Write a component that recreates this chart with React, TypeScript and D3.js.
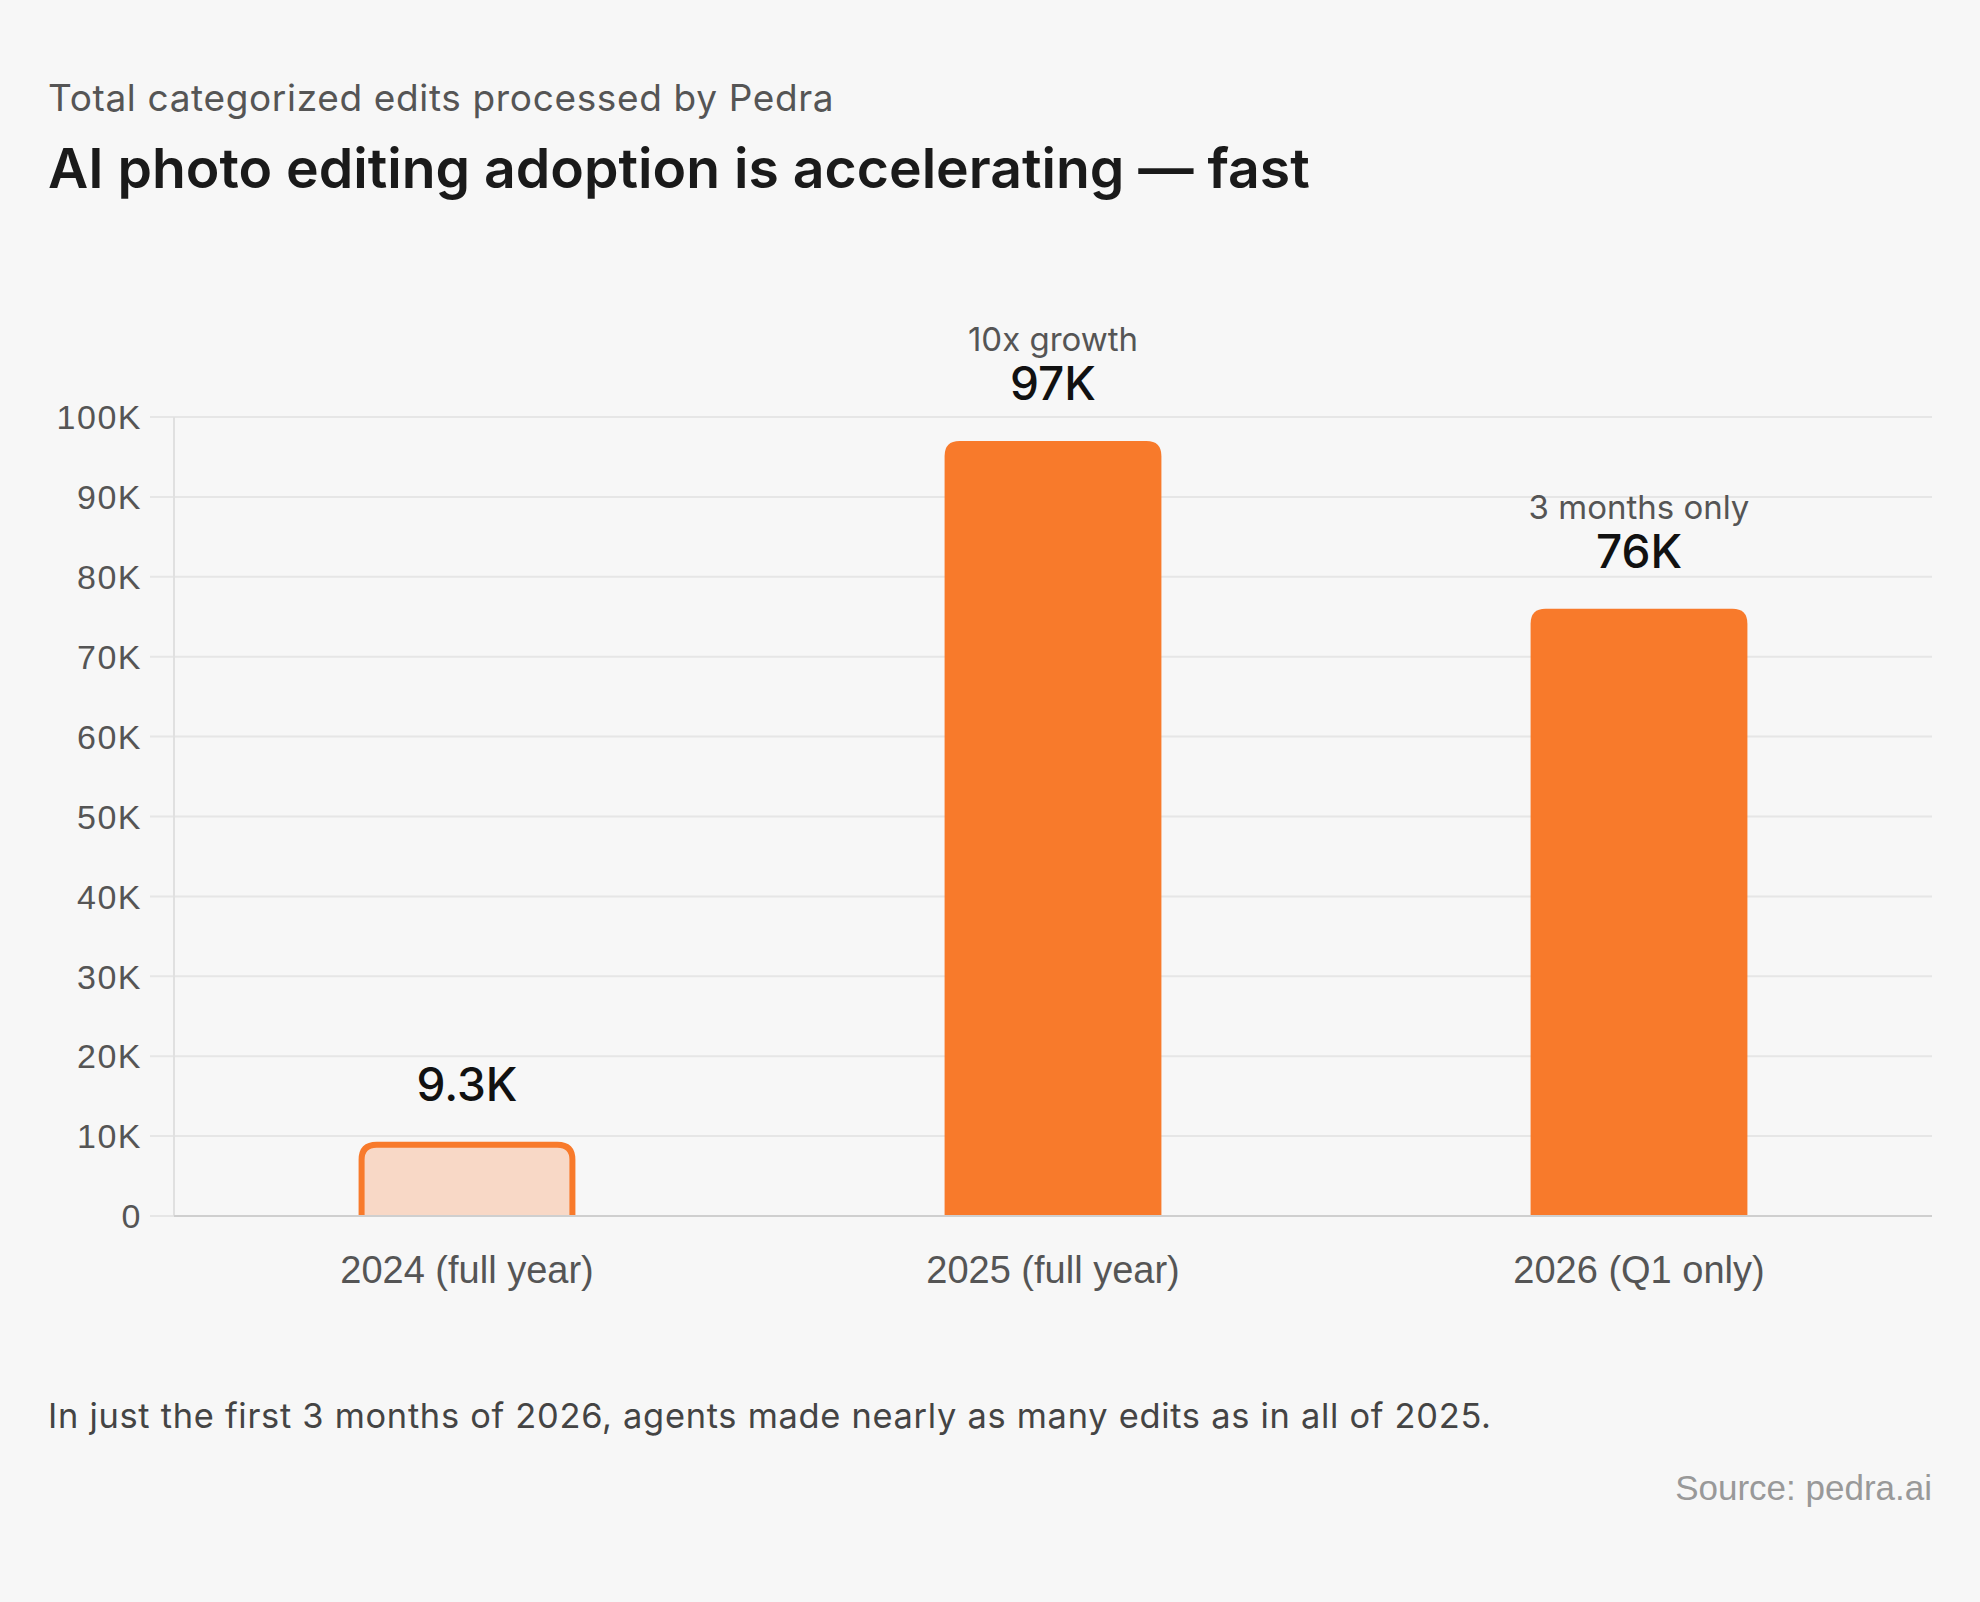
import React, { useEffect, useRef } from 'react';
import * as d3 from 'd3';

const categories = ['2024 (full year)', '2025 (full year)', '2026 (Q1 only)'];
const values = [9300, 97000, 76000];
const valueLabels = ['9.3K', '97K', '76K'];
const notes = ['', '10x growth', '3 months only'];
const yTicks = [0, 10000, 20000, 30000, 40000, 50000, 60000, 70000, 80000, 90000, 100000];

const W = 1980;
const H = 1602;
const FONT = 'Inter, "Noto Sans", sans-serif';
const SANS = '"Liberation Sans", Arial, sans-serif';
const ORANGE = '#f87a2b';

const App: React.FC = () => {
  const svgRef = useRef<SVGSVGElement>(null);

  useEffect(() => {
    document.body.style.margin = '0';
    document.body.style.background = '#f7f7f7';
    if (!svgRef.current) return;

    const svg = d3.select(svgRef.current);
    svg.selectAll('*').remove();

    const margin = { top: 417, right: 48, bottom: 386, left: 174 };
    const width = W - margin.left - margin.right;
    const height = H - margin.top - margin.bottom;

    svg.append('rect').attr('width', W).attr('height', H).attr('fill', '#f7f7f7');

    // Header
    svg.append('text')
      .attr('x', 48).attr('y', 111)
      .attr('font-family', FONT).attr('font-size', 37)
      .attr('letter-spacing', 0.65)
      .attr('fill', '#555')
      .text('Total categorized edits processed by Pedra');

    svg.append('text')
      .attr('x', 48).attr('y', 188)
      .attr('font-family', FONT).attr('font-size', 55.3).attr('font-weight', 600)
      .attr('fill', '#1a1a1a')
      .text('AI photo editing adoption is accelerating — fast');

    const g = svg.append('g').attr('transform', `translate(${margin.left},${margin.top})`);

    const x = d3.scaleBand<string>()
      .domain(categories)
      .range([0, width])
      .paddingInner(0.63)
      .paddingOuter(0.315);

    const y = d3.scaleLinear().domain([0, 100000]).range([height, 0]);

    // Grid lines
    g.selectAll('.grid')
      .data(yTicks)
      .enter()
      .append('line')
      .attr('x1', -24).attr('x2', width)
      .attr('y1', d => y(d)).attr('y2', d => y(d))
      .attr('stroke', '#e6e6e6').attr('stroke-width', 2);

    // Y tick labels
    g.selectAll('.ytick')
      .data(yTicks)
      .enter()
      .append('text')
      .attr('x', -32)
      .attr('y', d => y(d))
      .attr('dy', '0.36em')
      .attr('text-anchor', 'end')
      .attr('font-family', SANS).attr('font-size', 34)
      .attr('letter-spacing', 1.5)
      .attr('fill', '#555')
      .text(d => (d === 0 ? '0' : `${d / 1000}K`));

    g.append('line')
      .attr('x1', 0).attr('x2', 0).attr('y1', 0).attr('y2', height)
      .attr('stroke', '#e0e0e0').attr('stroke-width', 2);

    const r = 15;
    const topPath = (x0: number, y0: number, w: number, h: number) =>
      `M${x0},${y0 + h}V${y0 + r}Q${x0},${y0} ${x0 + r},${y0}H${x0 + w - r}Q${x0 + w},${y0} ${x0 + w},${y0 + r}V${y0 + h}`;

    categories.forEach((c, i) => {
      const bx = x(c)!;
      const bw = x.bandwidth();
      const by = y(values[i]);
      const bh = height - by;
      if (i === 0) {
        g.append('path')
          .attr('d', topPath(bx + 3, by + 3, bw - 6, bh - 3) + 'Z')
          .attr('fill', '#f8d8c6');
        g.append('path')
          .attr('d', topPath(bx + 3, by + 3, bw - 6, bh - 3))
          .attr('fill', 'none')
          .attr('stroke', ORANGE).attr('stroke-width', 6);
      } else {
        g.append('path').attr('d', topPath(bx, by, bw, bh) + 'Z').attr('fill', ORANGE);
      }
      const cx = bx + bw / 2;
      g.append('text')
        .attr('x', cx).attr('y', by - 41)
        .attr('text-anchor', 'middle')
        .attr('font-family', FONT).attr('font-size', 46).attr('font-weight', 500)
        .attr('fill', '#111')
        .text(valueLabels[i]);
      if (notes[i]) {
        g.append('text')
          .attr('x', cx).attr('y', by - 90)
          .attr('text-anchor', 'middle')
          .attr('font-family', FONT).attr('font-size', 33)
          .attr('fill', '#555')
          .text(notes[i]);
      }
      g.append('text')
        .attr('x', cx).attr('y', height + 67)
        .attr('text-anchor', 'middle')
        .attr('font-family', SANS).attr('font-size', 38)
        .attr('fill', '#555')
        .text(c);
    });

    // Baseline drawn over the bars
    g.append('line')
      .attr('x1', 0).attr('x2', width).attr('y1', height).attr('y2', height)
      .attr('stroke', '#cfcfcf').attr('stroke-width', 2);

    // Footer
    svg.append('text')
      .attr('x', 48).attr('y', 1428)
      .attr('font-family', FONT).attr('font-size', 34.4)
      .attr('letter-spacing', 0.72)
      .attr('fill', '#444')
      .text('In just the first 3 months of 2026, agents made nearly as many edits as in all of 2025.');

    svg.append('text')
      .attr('x', W - 48).attr('y', 1500)
      .attr('text-anchor', 'end')
      .attr('font-family', SANS).attr('font-size', 35)
      .attr('fill', '#999')
      .text('Source: pedra.ai');
  }, []);

  return <svg ref={svgRef} width={W} height={H} style={{ display: 'block' }} />;
};

export default App;
